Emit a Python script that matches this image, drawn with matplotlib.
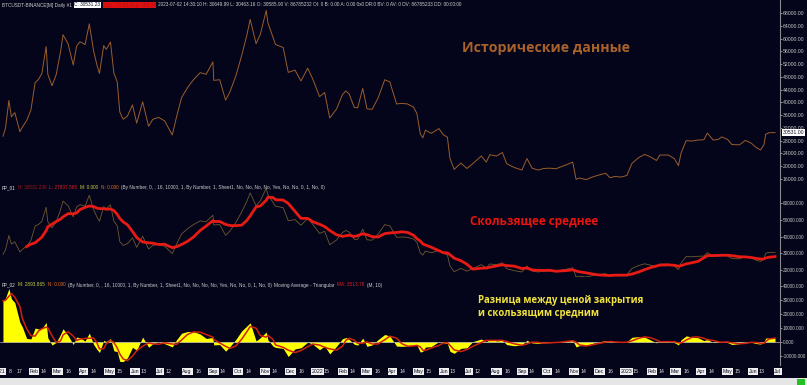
import matplotlib
matplotlib.use("Agg")
import matplotlib.pyplot as plt
import matplotlib.dates as mdates
import matplotlib.transforms as mtransforms
from matplotlib.patches import Rectangle
import pandas as pd
import numpy as np

# BTCUSDT closes (roughly weekly)
dates = ["2021-01-01","2021-01-04","2021-01-08","2021-01-11","2021-01-15","2021-01-21","2021-01-24","2021-01-29",
         "2021-02-03","2021-02-08","2021-02-12","2021-02-16","2021-02-21","2021-02-23","2021-02-28","2021-03-05",
         "2021-03-10","2021-03-13","2021-03-19","2021-03-25","2021-03-29","2021-04-02","2021-04-08","2021-04-13",
         "2021-04-18","2021-04-22","2021-04-25","2021-04-30","2021-05-03","2021-05-08","2021-05-12","2021-05-16",
         "2021-05-19","2021-05-23","2021-05-28","2021-06-03","2021-06-08","2021-06-15","2021-06-22","2021-06-27",
         "2021-07-04","2021-07-11","2021-07-20","2021-07-25","2021-07-31","2021-08-07","2021-08-14","2021-08-22",
         "2021-08-29","2021-09-06","2021-09-07","2021-09-14","2021-09-21","2021-09-26","2021-10-03","2021-10-10",
         "2021-10-16","2021-10-20","2021-10-27","2021-11-01","2021-11-08","2021-11-10","2021-11-16","2021-11-19",
         "2021-11-28","2021-12-04","2021-12-12","2021-12-19","2021-12-27","2022-01-02","2022-01-10","2022-01-16",
         "2022-01-22","2022-01-30","2022-02-06","2022-02-10","2022-02-14","2022-02-20","2022-02-24","2022-03-02",
         "2022-03-07","2022-03-13","2022-03-20","2022-03-28","2022-04-03","2022-04-11","2022-04-17","2022-04-24",
         "2022-05-01","2022-05-05","2022-05-09","2022-05-12","2022-05-15","2022-05-22","2022-05-31","2022-06-05",
         "2022-06-10","2022-06-13","2022-06-18","2022-06-26","2022-07-03","2022-07-10","2022-07-20","2022-07-26",
         "2022-07-30","2022-08-07","2022-08-14","2022-08-19","2022-08-28","2022-09-06","2022-09-12","2022-09-18",
         "2022-09-25","2022-10-02","2022-10-09","2022-10-16","2022-10-25","2022-10-30","2022-11-05","2022-11-09",
         "2022-11-13","2022-11-21","2022-11-27","2022-12-04","2022-12-14","2022-12-19","2022-12-25","2023-01-01",
         "2023-01-08","2023-01-14","2023-01-22","2023-01-29","2023-02-05","2023-02-12","2023-02-16","2023-02-26",
         "2023-03-05","2023-03-10","2023-03-13","2023-03-19","2023-03-26","2023-04-02","2023-04-09","2023-04-13",
         "2023-04-20","2023-04-26","2023-04-30","2023-05-07","2023-05-12","2023-05-21","2023-05-28","2023-06-04",
         "2023-06-10","2023-06-15","2023-06-19","2023-06-21","2023-06-25","2023-07-02"]
closes = [29400, 31900, 40600, 35500, 36800, 30800, 32300, 34300,
          37600, 46200, 47200, 49100, 57500, 48800, 45200, 48800,
          55900, 61200, 58300, 51700, 57600, 59000, 58100, 64600,
          56200, 51700, 49100, 57800, 56600, 58900, 49200, 46400,
          37000, 34700, 35700, 39200, 33500, 40200, 32500, 34700,
          35300, 34200, 29800, 35400, 41500, 44600, 47100, 49300,
          48800, 52700, 46900, 47100, 40700, 43200, 48200, 54700,
          60900, 66000, 58400, 61300, 68800, 64900, 60300, 58100,
          57200, 49400, 50100, 46700, 50700, 47300, 41800, 43100,
          35100, 37900, 42400, 43600, 42600, 38400, 38300, 44400,
          38000, 37800, 41300, 47100, 46400, 39500, 39700, 39500,
          38500, 36500, 30100, 28900, 31300, 30300, 31800, 29900,
          29100, 22500, 19000, 21000, 19300, 20800, 23200, 21300,
          23600, 23200, 24300, 20800, 19600, 18800, 22400, 19400,
          18800, 19300, 19400, 19200, 20100, 20600, 21300, 15900,
          16300, 15800, 16500, 17100, 17800, 16400, 16800, 16600,
          17100, 20900, 22700, 23700, 22900, 21800, 23500, 23500,
          22400, 20200, 24100, 28000, 27900, 28200, 28300, 30400,
          28200, 28400, 29200, 28400, 26800, 26700, 28100, 27200,
          25800, 25100, 26800, 30000, 30500, 30531]

ticks1 = list(range(16000, 68001, 4000))
ticks2 = list(range(20000, 60001, 10000))
ticks3 = list(range(-10000, 40001, 10000))

months = ["Feb", "Mar", "Apr", "May", "Jun", "Jul", "Aug", "Sep", "Oct", "Nov", "Dec"]
mid_days = [14, 16, 14, 15, 13, 12, 16, 14, 14, 14, 16]

close = pd.Series(closes, index=pd.to_datetime(dates), dtype=float)
ma = close.rolling("30D").mean()
elapsed = (close.index - close.index[0]).days.values
warm = np.clip((elapsed + 1) / 30.0, 0, 1) ** 2
diff = close - ma * warm
tri = diff.rolling(2, min_periods=1).mean().rolling(2, min_periods=1).mean()

bg = "#04041a"
W, H = 807, 385
fig = plt.figure(figsize=(W / 100, H / 100), dpi=100, facecolor=bg)

def panel(top, bottom, fs):
    ax = fig.add_axes([0, 1 - bottom / H, 780 / W, (bottom - top) / H], facecolor=bg)
    for s in ["top", "left", "bottom"]:
        ax.spines[s].set_visible(False)
    ax.spines["right"].set_color("#8a8a8a")
    ax.spines["right"].set_linewidth(0.8)
    ax.yaxis.tick_right()
    ax.tick_params(axis="y", length=1.5, width=0.5, colors="#c8c8c8", labelsize=fs, pad=0.6)
    for lb in ax.get_yticklabels():
        lb.set_family("Liberation Sans")
    ax.tick_params(axis="x", bottom=False, labelbottom=False)
    return ax

x0 = mdates.date2num(pd.Timestamp("2021-01-01")) - 3.5
x1 = mdates.date2num(pd.Timestamp("2023-07-02")) + 5.9

ax1 = panel(0, 182, 3.7)
ax1.plot(close.index, close.values, color="#9a5e2c", lw=0.7)
ax1.set_ylim(15060, 72070)
ax1.set_yticks(ticks1)
ax1.set_yticklabels(["%.2f" % t for t in ticks1], family="Liberation Sans")
tr1 = mtransforms.blended_transform_factory(ax1.transAxes, ax1.transData)
ax1.text(1.004, closes[-1], "%.2f" % closes[-1], transform=tr1, fontsize=3.7, color="#10102a",
         family="Liberation Sans", va="center", bbox=dict(boxstyle="square,pad=0.15", fc="white", ec="none"))
ax1.text(462 / 780, 0.735, "Исторические данные", transform=ax1.transAxes, color="#a8622a",
         fontsize=10.2, fontweight="bold", family="Open Sans", va="center")

ax2 = panel(182, 277, 3.4)
ax2.plot(close.index, close.values, color="#6e5a30", lw=0.6)
ok = elapsed >= 28
ax2.plot(ma.index[ok], ma.values[ok], color="#e81a14", lw=2.0)
ax2.set_ylim(15820, 72540)
ax2.set_yticks(ticks2)
ax2.set_yticklabels(["%.3f" % t for t in ticks2], family="Liberation Sans")
ax2.text(470 / 780, 0.58, "Скользящее среднее", transform=ax2.transAxes, color="#e8140e",
         fontsize=8.5, fontweight="bold", family="Open Sans", va="center")

ax3 = panel(277, 365, 3.4)
ax3.fill_between(diff.index, 0, diff.values, color="#ffff00", lw=0)
ax3.axhline(0, color="#e0e0e0", lw=0.4)
ax3.plot(tri.index, tri.values, color="#d0200e", lw=1.1)
ax3.set_ylim(-16430, 46430)
ax3.set_yticks(ticks3)
ax3.set_yticklabels(["%.3f" % t for t in ticks3], family="Liberation Sans")
ax3.text(478 / 780, 0.80, "Разница между ценой закрытия\nи скользящим средним", transform=ax3.transAxes,
         color="#f2e43c", fontsize=6.9, fontweight="bold", family="Open Sans", va="top", linespacing=1.25)

for ax in (ax1, ax2, ax3):
    ax.set_xlim(x0, x1)

# date band
axb = fig.add_axes([0, 1 - 378 / H, 780 / W, 13 / H], facecolor=bg)
axb.set_xlim(x0, x1)
axb.set_ylim(0, 1)
axb.axis("off")
box = dict(boxstyle="square,pad=0.12", fc="#f0f0f0", ec="none")
def lab(d, s, boxed, ha="left"):
    axb.text(mdates.date2num(pd.Timestamp(d)), 0.5, s, fontsize=3.8, va="center", ha=ha,
             family="Liberation Sans", color="#10102a" if boxed else "#e0e0e0",
             bbox=box if boxed else None, clip_on=False)
lab("2021-01-04", "2021", True, ha="right")
lab("2021-01-08", "8", False)
lab("2021-01-17", "17", False)
for yr in [2021, 2022, 2023]:
    if yr > 2021:
        lab("%d-01-01" % yr, str(yr), True)
        lab("%d-01-15" % yr, "15", False)
    for m, (name, dd) in enumerate(zip(months, mid_days), start=2):
        if yr == 2023 and m > 7:
            break
        lab("%d-%02d-01" % (yr, m), name, True)
        if not (yr == 2023 and m == 7):
            lab("%d-%02d-%02d" % (yr, m, dd), str(dd), False)

fig.patches.append(Rectangle((0, 0), 1, 7 / H, transform=fig.transFigure, fc="#e6e6e6", ec="none"))
fig.patches.append(Rectangle((797 / W, 0), 8 / W, 6 / H, transform=fig.transFigure, fc="#22c022", ec="none"))

# header rows
renderer = fig.canvas.get_renderer()
def row(x, y, pieces):
    for s, c, fc in pieces:
        kw = dict(bbox=dict(boxstyle="square,pad=0.1", fc=fc, ec="none")) if fc else {}
        t = fig.text(x / W, 1 - y / H, s, color=c, fontsize=3.4, family="Liberation Sans", va="center", **kw)
        x += t.get_window_extent(renderer).width + 2.5

row(2, 5, [("BTCUSDT-BINANCE[M] Daily #1", "#d0d0d0", None),
           ("C: 30531.23", "#10102a", "white"),
           ("Chg: -73.55 Rng: 186.83", "#b01010", "#e01010"),
           ("2023-07-02 14:30:10 H: 30649.99 L: 30463.16 O: 30585.90 V: 86785232 OI: 0 B: 0.00 A: 0.00 0x0 DR:0 BV: 0 AV: 0 DV: 86785233 DD: 00:00:00", "#d0d0d0", None)])
args = "(By Number, 0, , 16, 10000, 1, By Number, 1, Sheet1, No, No, No, No, Yes, No, No, 0, 1, No, 0)"
row(2, 188, [("FP_01", "#e0e0e0", None), ("H: 30531.230", "#a01818", None), ("L: 27837.565", "#e02020", None),
             ("M: 0.000", "#c8d040", None), ("N: 0.000", "#e07020", None), (args, "#d0d0d0", None)])
row(2, 285, [("FP_02", "#e0e0e0", None), ("M: 2893.865", "#c8d040", None), ("N: 0.000", "#e07020", None),
             (args, "#d0d0d0", None), ("Moving Average - Triangular", "#d0d0d0", None),
             ("MA: 3513.78", "#e02020", None), ("(M, 10)", "#d0d0d0", None)])

fig.savefig("out.png", dpi=100, facecolor=bg)
